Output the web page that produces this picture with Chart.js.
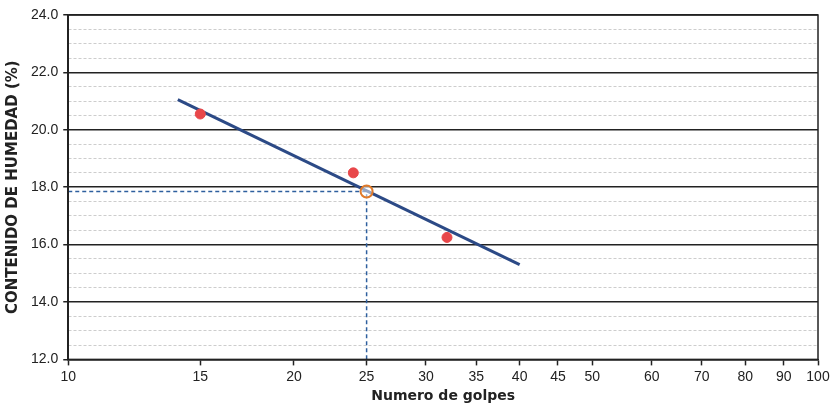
<!DOCTYPE html>
<html>
<head>
  <title>Limite liquido</title>
  <script src="https://cdn.jsdelivr.net/npm/chart.js"></script>
  <style>
    body { margin: 0; background: #fff; }
    #wrap { width: 830px; height: 405px; }
  </style>
</head>
<body>
<div id="wrap"><canvas id="chart" width="830" height="405"></canvas></div>
<script>
  // datos
  var golpes = [15, 24, 32];
  var humedad = [20.55, 18.5, 16.25];
  var lineaGolpes = [14, 40];
  var lineaHumedad = [21.05, 15.3];
  var golpes25 = 25;
  var humedad25 = 17.85;
  var xTicks = [10, 15, 20, 25, 30, 35, 40, 45, 50, 60, 70, 80, 90, 100];
  var yMin = 12, yMax = 24;

  function pts(xs, ys) {
    var out = [];
    for (var i = 0; i < xs.length; i++) out.push({ x: xs[i], y: ys[i] });
    return out;
  }

  function esMayor(c) {
    var v = c.tick ? c.tick.value : 0;
    return Math.abs(v % 2) < 1e-6;
  }

  var marco = {
    id: 'marco',
    afterDraw: function(chart) {
      var a = chart.chartArea, ctx = chart.ctx;
      ctx.save();
      ctx.strokeStyle = '#222';
      ctx.lineWidth = 1.5;
      ctx.strokeRect(a.left, a.top, a.right - a.left, a.bottom - a.top);
      ctx.restore();
    }
  };

  var ctx = document.getElementById('chart').getContext('2d');
  var myChart = new Chart(ctx, {
    type: 'scatter',
    data: {
      datasets: [
        {
          label: 'w25',
          data: [{ x: golpes25, y: humedad25 }],
          pointRadius: 6,
          pointBorderWidth: 2,
          pointBorderColor: '#e07a2a',
          pointBackgroundColor: 'rgba(255,255,255,0.5)',
          showLine: false
        },
        {
          label: 'puntos',
          data: pts(golpes, humedad),
          pointRadius: 5,
          pointBackgroundColor: '#e8474a',
          pointBorderColor: '#e8474a',
          showLine: false
        },
        {
          label: 'recta',
          data: pts(lineaGolpes, lineaHumedad),
          showLine: true,
          borderColor: '#2c4a86',
          borderWidth: 3,
          pointRadius: 0
        },
        {
          label: 'guia',
          data: [{ x: 10, y: humedad25 }, { x: golpes25, y: humedad25 }, { x: golpes25, y: yMin }],
          showLine: true,
          borderColor: '#2e5f9e',
          borderWidth: 1.5,
          borderDash: [4, 3],
          pointRadius: 0
        }
      ]
    },
    options: {
      responsive: false,
      animation: false,
      layout: { padding: { top: 15, right: 12, left: 4, bottom: 0 } },
      plugins: { legend: { display: false }, tooltip: { enabled: false } },
      scales: {
        x: {
          type: 'logarithmic',
          min: 10,
          max: 100,
          afterBuildTicks: function(scale) {
            scale.ticks = xTicks.map(function(v) { return { value: v }; });
          },
          afterFit: function(scale) {
            scale.paddingRight = 10;
          },
          ticks: {
            autoSkip: false,
            maxRotation: 0,
            color: '#222',
            font: { family: 'Liberation Sans', size: 14 },
            padding: 3,
            callback: function(v) { return String(v); }
          },
          grid: {
            drawOnChartArea: false,
            tickColor: '#222',
            tickLength: 6,
            tickWidth: 1.5
          },
          border: { color: '#222', width: 1.5 },
          title: {
            display: true,
            text: 'Numero de golpes',
            color: '#222',
            font: { family: 'DejaVu Sans', size: 14, weight: 'bold' },
            padding: { top: 0, bottom: 0 }
          }
        },
        y: {
          min: yMin,
          max: yMax,
          afterFit: function(scale) {
            scale.paddingTop = 8;
          },
          ticks: {
            stepSize: 0.5,
            autoSkip: false,
            color: '#222',
            font: { family: 'Liberation Sans', size: 14 },
            padding: 5,
            callback: function(v) {
              return (Math.abs(v % 2) < 1e-6) ? v.toFixed(1) : '';
            }
          },
          grid: {
            color: function(c) { return esMayor(c) ? '#222' : '#cdcdcd'; },
            lineWidth: function(c) { return esMayor(c) ? 1.5 : 1; },
            tickColor: function(c) { return esMayor(c) ? '#222' : 'rgba(0,0,0,0)'; },
            tickLength: 5
          },
          border: {
            color: '#222',
            width: 1.5,
            dash: function(c) { return esMayor(c) ? [] : [3, 2]; }
          },
          title: {
            display: true,
            text: 'CONTENIDO DE HUMEDAD (%)',
            color: '#222',
            font: { family: 'DejaVu Sans', size: 15, weight: 'bold' },
            padding: { top: 0, bottom: 4 }
          }
        }
      }
    },
    plugins: [marco]
  });
</script>
</body>
</html>
